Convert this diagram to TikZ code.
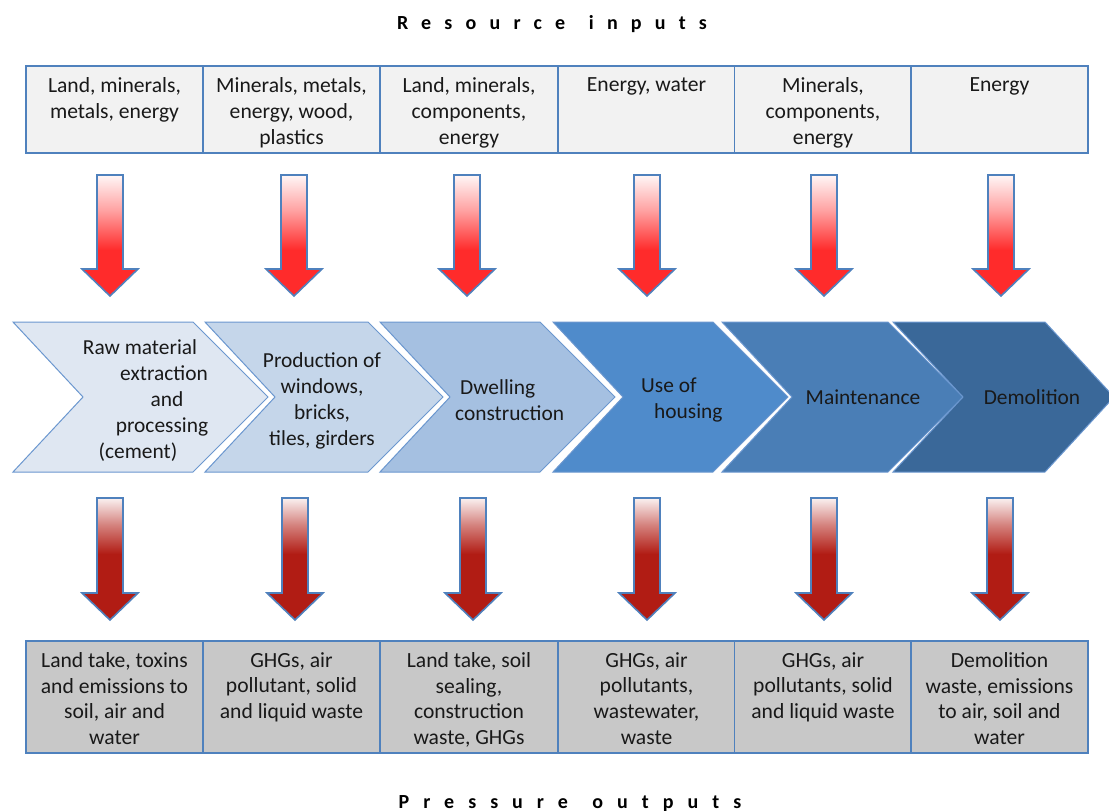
\documentclass[tikz,border=0pt]{standalone}
\usepackage{fontspec}
\setmainfont{Carlito}
\newfontfamily\spacedfont[LetterSpace=66]{Carlito}
\newfontfamily\widespacedfont[LetterSpace=70]{Carlito}
\definecolor{boxblue}{HTML}{4F81BD}
\definecolor{topfill}{HTML}{F2F2F2}
\definecolor{botfill}{HTML}{C8C8C8}
\definecolor{chevedge}{HTML}{6B97CF}
\definecolor{chA}{HTML}{DFE7F2}
\definecolor{chB}{HTML}{C5D6EA}
\definecolor{chC}{HTML}{A5C0E1}
\definecolor{chD}{HTML}{4F8BCB}
\definecolor{chE}{HTML}{4A7EB6}
\definecolor{chF}{HTML}{3A6899}
\definecolor{redtop}{HTML}{FF2B2B}
\definecolor{redbot}{HTML}{B11C14}
\pgfdeclareverticalshading{inshade}{100bp}{color(0bp)=(redtop); color(44bp)=(redtop); color(60bp)=(redtop!45!white); color(75bp)=(redtop!4!white); color(100bp)=(redtop!4!white)}
\pgfdeclareverticalshading{outshade}{100bp}{color(0bp)=(redbot); color(52bp)=(redbot); color(64bp)=(redbot!55!white); color(75bp)=(redbot!6!white); color(100bp)=(redbot!6!white)}
\tikzset{
  inbox/.style={draw=boxblue, fill=topfill, line width=1.6, minimum width=177, minimum height=87, inner sep=0},
  outbox/.style={draw=boxblue, fill=botfill, line width=1.6, minimum width=177, minimum height=112, inner sep=0},
  boxtext/.style={anchor=north, align=center, inner sep=0, font=\fontsize{21.6}{25.8}\selectfont, text=black!90},
  chevtext/.style={align=center, inner sep=0, font=\fontsize{21.4}{26}\selectfont, text=black!90},
  chev/.style={draw=chevedge, line width=1, line join=miter},
  inarrow/.style={draw=boxblue, line width=1.6, shading=inshade, line join=miter},
  outarrow/.style={draw=boxblue, line width=1.6, shading=outshade, line join=miter},
  titletext/.style={anchor=base, inner sep=0, font=\fontsize{20}{24}\selectfont\bfseries}
}
\begin{document}
\begin{tikzpicture}[x=1pt,y=-1pt]
\useasboundingbox (0,0) rectangle (1109,811);
\fill[white] (0,0) rectangle (1109,811);

% titles
\node[titletext] (rin) at (552,29) {\spacedfont\bfseries Resource\hspace{6pt} inputs};
\node[titletext] (pout) at (570,808) {\widespacedfont\bfseries Pressure\hspace{6pt} outputs};

% top boxes
\node[inbox] (t1) at (114.5,109.5) {};
\node[inbox] (t2) at (291.5,109.5) {};
\node[inbox] (t3) at (469,109.5) {};
\node[inbox] (t4) at (646.5,109.5) {};
\node[inbox] (t5) at (823,109.5) {};
\node[inbox] (t6) at (999.5,109.5) {};
\node[boxtext] (t1x) at (114.5,77.5) {Land, minerals,\\metals, energy};
\node[boxtext] (t2x) at (291.5,77.5) {Minerals, metals,\\energy, wood,\\plastics};
\node[boxtext] (t3x) at (469,77.5) {Land, minerals,\\components,\\energy};
\node[boxtext] (t4x) at (646.5,77.5) {Energy, water};
\node[boxtext] (t5x) at (823,77.5) {Minerals,\\components,\\energy};
\node[boxtext] (t6x) at (999.5,77.5) {Energy};

% input arrows
\foreach \x in {110,294,467,647,824,1001}{
  \path[inarrow] (\x-13,175) -- (\x+13,175) -- (\x+13,269) -- (\x+28,269) -- (\x,296) -- (\x-28,269) -- (\x-13,269) -- cycle;
}

% chevrons
\path[chev, fill=chA] (13,322) -- (193,322) -- (268,397) -- (193,472) -- (13,472) -- (83,397) -- cycle;
\path[chev, fill=chB] (205,322) -- (368,322) -- (443,397) -- (368,472) -- (205,472) -- (275,397) -- cycle;
\path[chev, fill=chC] (380,322) -- (540,322) -- (615,397) -- (540,472) -- (380,472) -- (450,397) -- cycle;
\path[chev, fill=chD] (553,322) -- (713,322) -- (788,397) -- (713,472) -- (553,472) -- (623,397) -- cycle;
\path[chev, fill=chE] (722,322) -- (888,322) -- (963,397) -- (888,472) -- (722,472) -- (792,397) -- cycle;
\path[chev, fill=chF] (893,322) -- (1045,322) -- (1114,397) -- (1045,472) -- (893,472) -- (963,397) -- cycle;

\node[chevtext] (c1) at (152,401) {Raw material\hspace*{24pt}\\\hspace*{24pt}extraction\\\hspace*{30pt}and\\\hspace*{20pt}processing\\(cement)\hspace*{28pt}};
\node[chevtext] (c2) at (322,401) {Production of\\windows,\\bricks,\\tiles, girders};
\node[chevtext, anchor=west, align=left] (c3) at (455,400) {\hspace*{5pt}Dwelling\\construction};
\node[chevtext, anchor=west, align=left] (c4) at (641,400) {Use of\\\hspace*{13pt}housing};
\node[chevtext] (c5) at (863,397) {Maintenance};
\node[chevtext] (c6) at (1032,397) {Demolition};

% output arrows
\foreach \x in {110,295,473,647,824,1000}{
  \path[outarrow] (\x-13,498) -- (\x+13,498) -- (\x+13,593) -- (\x+28,593) -- (\x,620) -- (\x-28,593) -- (\x-13,593) -- cycle;
}

% bottom boxes
\node[outbox] (b1) at (114.5,697) {};
\node[outbox] (b2) at (291.5,697) {};
\node[outbox] (b3) at (469,697) {};
\node[outbox] (b4) at (646.5,697) {};
\node[outbox] (b5) at (823,697) {};
\node[outbox] (b6) at (999.5,697) {};
\node[boxtext] (b1x) at (114.5,652) {Land take, toxins\\and emissions to\\soil, air and\\water};
\node[boxtext] (b2x) at (291.5,652) {GHGs, air\\pollutant, solid\\and liquid waste};
\node[boxtext] (b3x) at (469,652) {Land take, soil\\sealing,\\construction\\waste, GHGs};
\node[boxtext] (b4x) at (646.5,652) {GHGs, air\\pollutants,\\wastewater,\\waste};
\node[boxtext] (b5x) at (823,652) {GHGs, air\\pollutants, solid\\and liquid waste};
\node[boxtext] (b6x) at (999.5,652) {Demolition\\waste, emissions\\to air, soil and\\water};
\end{tikzpicture}
\end{document}
